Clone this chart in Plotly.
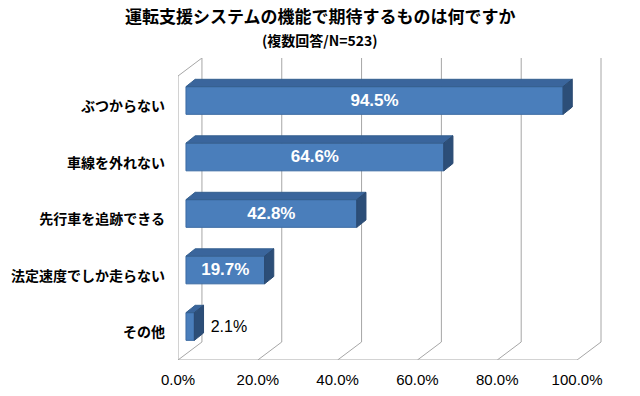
import plotly.graph_objects as go

categories = ["ぶつからない", "車線を外れない", "先行車を追跡できる", "法定速度でしか走らない", "その他"]
values = [94.5, 64.6, 42.8, 19.7, 2.1]
value_labels = ["94.5%", "64.6%", "42.8%", "19.7%", "\u00a0\u00a0\u00a02.1%"]
tick_vals = [0, 20, 40, 60, 80, 100]
tick_text = ["0.0%", "20.0%", "40.0%", "60.0%", "80.0%", "100.0%"]
title_text = "運転支援システムの機能で期待するものは何ですか"
subtitle_text = "(複数回答/N=523)"

# geometry of the pseudo-3D frame (axis units)
BASE = 2.0          # bars start slightly behind the front plane
BACK_DX = 6.0       # back wall offset (x units)
BACK_DY = 0.3186    # back wall offset (y units)
BAR_DX = 2.3        # bar depth (x)
BAR_DY = 0.13       # bar depth (y)
BAR_W = 0.49
Y_FLOOR = 4.593
Y_TOP = -0.752

n = len(categories)
ypos = list(range(n))

fig = go.Figure()
fig.add_trace(go.Bar(
    orientation="h",
    y=ypos,
    x=values,
    base=BASE,
    width=BAR_W,
    marker=dict(color="#4a7ebb", line=dict(color="#3b6aa3", width=1)),
    text=value_labels,
    textposition=["inside"] * (n - 1) + ["outside"],
    insidetextanchor="middle",
    textfont=dict(
        family="Liberation Sans, Arial",
        size=[17] * (n - 1) + [16],
        color=["white"] * (n - 1) + ["black"],
        weight=["bold"] * (n - 1) + ["normal"],
    ),
    cliponaxis=False,
    hoverinfo="skip",
))

shapes = []
grid = dict(color="#a6a6a6", width=1)
# back wall gridlines and floor diagonals
for t in tick_vals:
    shapes.append(dict(type="line", xref="x", yref="y", x0=t + BACK_DX, x1=t + BACK_DX,
                       y0=Y_TOP, y1=Y_FLOOR - BACK_DY, line=grid, layer="below"))
    shapes.append(dict(type="line", xref="x", yref="y", x0=t, x1=t + BACK_DX,
                       y0=Y_FLOOR, y1=Y_FLOOR - BACK_DY, line=grid, layer="below"))
# floor front edge
shapes.append(dict(type="line", xref="x", yref="y", x0=0, x1=tick_vals[-1],
                   y0=Y_FLOOR, y1=Y_FLOOR, line=grid, layer="below"))
# left wall front edge and top edge
shapes.append(dict(type="line", xref="x", yref="y", x0=0, x1=0,
                   y0=Y_TOP + BACK_DY, y1=Y_FLOOR, line=grid, layer="below"))
shapes.append(dict(type="line", xref="x", yref="y", x0=0, x1=BACK_DX,
                   y0=Y_TOP + BACK_DY, y1=Y_TOP, line=grid, layer="below"))

# 3D faces of the bars
for y, v in zip(ypos, values):
    x0 = BASE
    x1 = BASE + v
    yt = y - BAR_W / 2
    yb = y + BAR_W / 2
    top = f"M {x0},{yt} L {x1},{yt} L {x1 + BAR_DX},{yt - BAR_DY} L {x0 + BAR_DX},{yt - BAR_DY} Z"
    side = f"M {x1},{yt} L {x1 + BAR_DX},{yt - BAR_DY} L {x1 + BAR_DX},{yb - BAR_DY} L {x1},{yb} Z"
    shapes.append(dict(type="path", xref="x", yref="y", path=top,
                       fillcolor="#3a659c", line=dict(color="#35608f", width=1), layer="above"))
    shapes.append(dict(type="path", xref="x", yref="y", path=side,
                       fillcolor="#2c4e78", line=dict(color="#2a4a72", width=1), layer="above"))

PLOT_L, PLOT_T, PLOT_W, PLOT_H = 178, 58, 425, 302

fig.update_layout(
    width=640, height=396,
    margin=dict(l=PLOT_L, r=640 - PLOT_L - PLOT_W, t=PLOT_T, b=396 - PLOT_T - PLOT_H, autoexpand=False),
    paper_bgcolor="white", plot_bgcolor="white",
    showlegend=False,
    shapes=shapes,
    xaxis=dict(range=[0, 106.5], tickvals=tick_vals, ticktext=tick_text,
               showgrid=False, zeroline=False, showline=False, automargin=False,
               ticks="", ticklabelstandoff=9,
               tickfont=dict(family="Liberation Sans, Arial", size=15, color="black")),
    yaxis=dict(range=[Y_FLOOR, Y_TOP], tickvals=[p + 0.1 for p in ypos], ticktext=categories,
               showgrid=False, zeroline=False, showline=False, automargin=False,
               ticks="", ticklabelstandoff=12,
               tickfont=dict(family="Noto Sans CJK JP", size=14, color="black", weight="bold")),
    annotations=[
        dict(text=title_text, xref="paper", yref="paper", x=(320 - PLOT_L) / PLOT_W,
             y=1 + (PLOT_T - 16) / PLOT_H,
             xanchor="center", yanchor="middle", showarrow=False,
             font=dict(family="Noto Sans CJK JP", size=17, color="black", weight="bold")),
        dict(text=subtitle_text, xref="paper", yref="paper", x=(320 - PLOT_L) / PLOT_W,
             y=1 + (PLOT_T - 40) / PLOT_H,
             xanchor="center", yanchor="middle", showarrow=False,
             font=dict(family="Noto Sans CJK JP", size=14, color="black", weight="bold")),
    ],
)

fig.write_html("out.html", config={"displayModeBar": False},
               post_script="document.body.style.margin='0';")
